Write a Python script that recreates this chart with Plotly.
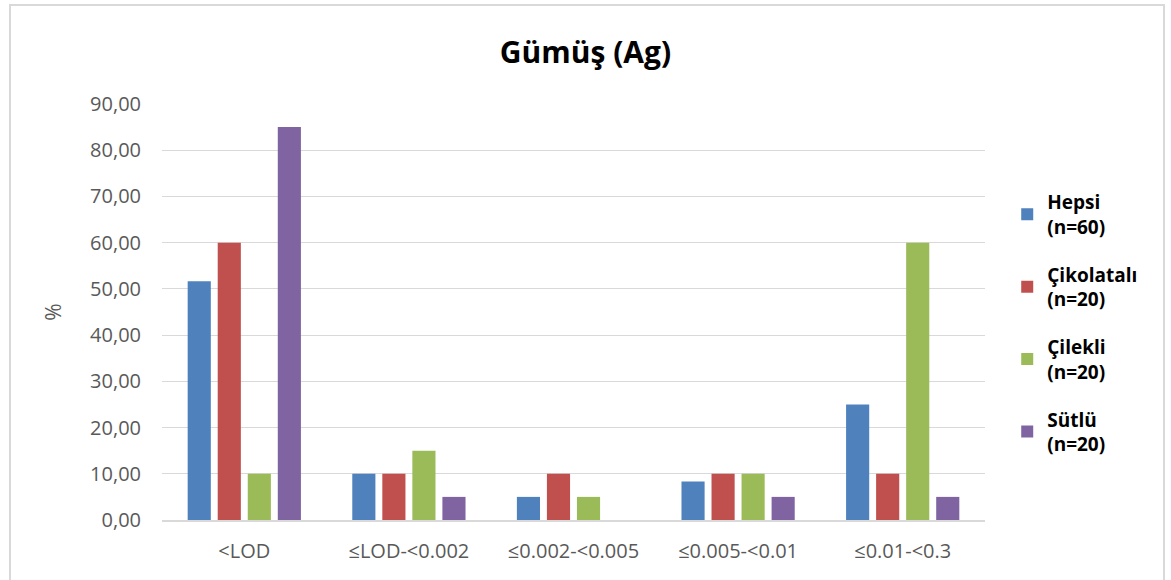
import plotly.graph_objects as go

# Silver (Ag) concentration ranges and share of samples per group (%)
categories = ["<LOD", "≤LOD-<0.002", "≤0.002-<0.005", "≤0.005-<0.01", "≤0.01-<0.3"]
hepsi = [51.67, 10.0, 5.0, 8.33, 25.0]
cikolatali = [60.0, 10.0, 10.0, 10.0, 10.0]
cilekli = [10.0, 15.0, 5.0, 10.0, 60.0]
sutlu = [85.0, 5.0, 0.0, 5.0, 5.0]

series_names = ["Hepsi<br>(n=60)", "Çikolatalı<br>(n=20)", "Çilekli<br>(n=20)", "Sütlü<br>(n=20)"]
series_values = [hepsi, cikolatali, cilekli, sutlu]
colors = ["#4F81BD", "#C0504D", "#9BBB59", "#8064A2"]

tick_vals = [0, 10, 20, 30, 40, 50, 60, 70, 80, 90]
tick_text = ["0,00", "10,00", "20,00", "30,00", "40,00", "50,00", "60,00", "70,00", "80,00", "90,00"]

FONT = "Open Sans"

fig = go.Figure()
for i, (name, vals, col) in enumerate(zip(series_names, series_values, colors)):
    fig.add_trace(go.Bar(x=categories, y=vals, name=name, marker_color=col,
                         marker_line_width=0, legendgroup=f"g{i}"))

fig.update_layout(
    width=1171, height=580,
    margin=dict(l=162, r=186, t=104, b=60),
    paper_bgcolor="white", plot_bgcolor="white",
    font=dict(family=FONT, color="#595959", size=20),
    title=dict(text="<b>Gümüş (Ag)</b>", x=0.5, xref="container", xanchor="center",
               y=1 - 52 / 580, yref="container", yanchor="middle",
               font=dict(family=FONT, size=30, color="#000000")),
    barmode="group", bargap=0.27, bargroupgap=0.23,
    legend=dict(x=1.027, xanchor="left", y=0.81, yanchor="top",
                font=dict(family=FONT, size=19, color="#000000", weight="bold"),
                tracegroupgap=20, itemwidth=30),
    showlegend=True,
)
fig.update_xaxes(showline=True, linecolor="#D9D9D9", linewidth=2, ticks="",
                 ticklabelstandoff=12,
                 tickfont=dict(size=20, color="#595959"))
fig.update_yaxes(range=[0, 90], tickvals=tick_vals, ticktext=tick_text,
                 showgrid=True, gridcolor="#D9D9D9", gridwidth=1, zeroline=False,
                 ticks="", ticklabelstandoff=20, tickfont=dict(size=20, color="#595959"),
                 title=dict(text="%", font=dict(size=21, color="#595959"), standoff=22))

# outer chart frame
fig.add_shape(type="rect", xref="paper", yref="paper",
              x0=(10 - 162) / 823, x1=(1164 - 162) / 823,
              y0=-0.3, y1=(520 - 5) / 416,
              line=dict(color="#D9D9D9", width=2), fillcolor="rgba(0,0,0,0)", layer="below")

fig.write_html("out.html")
